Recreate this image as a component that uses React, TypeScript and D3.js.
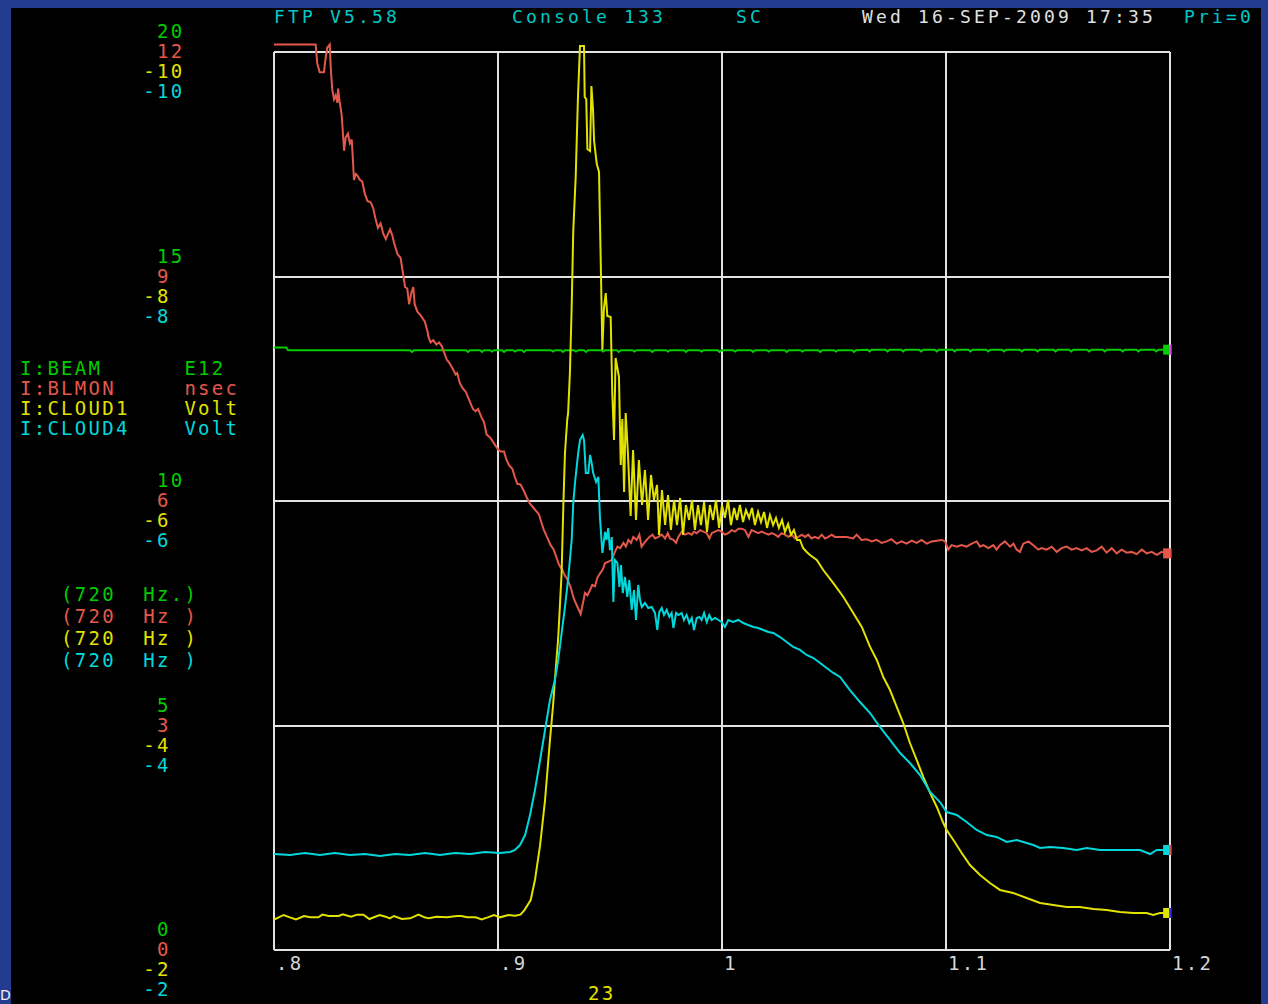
import React from 'react';
import * as d3 from 'd3';

const W = 1268, H = 1004;
const PL = 274, PR = 1170, PT = 52, PB = 950;

const xTicks = [0.8, 0.9, 1.0, 1.1, 1.2];
const xTickLabels = ['.8', '.9', '1', '1.1', '1.2'];
const beamTicks = [0, 5, 10, 15, 20];
const blmonTicks = [0, 3, 6, 9, 12];
const cloud1Ticks = [-2, -4, -6, -8, -10];
const cloud4Ticks = [-2, -4, -6, -8, -10];

const seriesNames = ['I:BEAM', 'I:BLMON', 'I:CLOUD1', 'I:CLOUD4'];
const seriesUnits = ['E12', 'nsec', 'Volt', 'Volt'];
const seriesRates = ['(720  Hz.)', '(720  Hz )', '(720  Hz )', '(720  Hz )'];
const seriesColors = ['#00cc00', '#e4584a', '#e2e200', '#00d8dc'];
const markerTickColors = ['#e040e0', '#e84848', '#2a2aff', '#e84848'];

const headerItems: [number, string, string][] = [
  [0, 'FTP V5.58', '#00c8c8'],
  [17, 'Console 133', '#00c8c8'],
  [33, 'SC', '#00c8c8'],
  [42, 'Wed 16-SEP-2009 17:35', '#e0e0e0'],
  [65, 'Pri=0', '#00c8c8'],
];
const xAxisTitle = '23';
const cornerText = 'D';

const beam: [number, number][] = [
  [0.8000, 13.42], [0.8054, 13.42], [0.8063, 13.36], [0.8400, 13.36], [0.8607, 13.36], [0.8616, 13.32], [0.8625, 13.36],
  [0.8857, 13.36], [0.8866, 13.32], [0.8875, 13.36], [0.8920, 13.36], [0.8929, 13.32], [0.8938, 13.36], [0.8964, 13.36],
  [0.8973, 13.33], [0.8982, 13.36], [0.9018, 13.36], [0.9027, 13.32], [0.9036, 13.36], [0.9067, 13.36], [0.9076, 13.33],
  [0.9085, 13.36], [0.9107, 13.36], [0.9116, 13.32], [0.9125, 13.36], [0.9237, 13.36], [0.9246, 13.33], [0.9255, 13.36],
  [0.9281, 13.36], [0.9290, 13.32], [0.9299, 13.36], [0.9339, 13.36], [0.9348, 13.33], [0.9357, 13.36], [0.9384, 13.36],
  [0.9393, 13.32], [0.9402, 13.36], [0.9460, 13.36], [0.9469, 13.33], [0.9478, 13.36], [0.9530, 13.36], [0.9539, 13.32],
  [0.9548, 13.36], [0.9600, 13.36], [0.9609, 13.33], [0.9618, 13.36], [0.9680, 13.36], [0.9689, 13.32], [0.9698, 13.36],
  [0.9750, 13.36], [0.9759, 13.33], [0.9768, 13.36], [0.9830, 13.36], [0.9839, 13.32], [0.9848, 13.36], [0.9900, 13.36],
  [0.9909, 13.33], [0.9918, 13.36], [0.9980, 13.36], [0.9989, 13.32], [0.9998, 13.36], [1.0050, 13.36], [1.0059, 13.33],
  [1.0068, 13.36], [1.0130, 13.36], [1.0139, 13.32], [1.0148, 13.36], [1.0200, 13.36], [1.0209, 13.33], [1.0218, 13.36],
  [1.0280, 13.36], [1.0289, 13.32], [1.0298, 13.36], [1.0350, 13.36], [1.0359, 13.33], [1.0368, 13.36], [1.0430, 13.36],
  [1.0439, 13.32], [1.0448, 13.36], [1.0500, 13.36], [1.0509, 13.33], [1.0518, 13.36], [1.0580, 13.36], [1.0589, 13.32],
  [1.0598, 13.36], [1.0650, 13.37], [1.0659, 13.33], [1.0668, 13.37], [1.0730, 13.37], [1.0739, 13.33], [1.0748, 13.37],
  [1.0800, 13.37], [1.0809, 13.33], [1.0818, 13.37], [1.0880, 13.37], [1.0889, 13.33], [1.0898, 13.37], [1.0950, 13.37],
  [1.0959, 13.33], [1.0968, 13.37], [1.1030, 13.37], [1.1039, 13.33], [1.1048, 13.37], [1.1100, 13.37], [1.1109, 13.33],
  [1.1118, 13.37], [1.1180, 13.37], [1.1189, 13.33], [1.1198, 13.37], [1.1250, 13.37], [1.1259, 13.33], [1.1268, 13.37],
  [1.1330, 13.37], [1.1339, 13.33], [1.1348, 13.37], [1.1400, 13.37], [1.1409, 13.33], [1.1418, 13.37], [1.1480, 13.37],
  [1.1489, 13.33], [1.1498, 13.37], [1.1550, 13.37], [1.1559, 13.33], [1.1568, 13.37], [1.1630, 13.37], [1.1639, 13.33],
  [1.1648, 13.37], [1.1700, 13.37], [1.1709, 13.33], [1.1718, 13.37], [1.1780, 13.37], [1.1789, 13.33], [1.1798, 13.37],
  [1.1850, 13.37], [1.1859, 13.33], [1.1868, 13.37], [1.1930, 13.37], [1.1939, 13.33], [1.1948, 13.37], [1.1985, 13.37],
];

const blmon: [number, number][] = [
  [0.8000, 12.10], [0.8186, 12.10], [0.8193, 11.85], [0.8204, 11.73], [0.8223, 11.73], [0.8231, 11.93], [0.8238, 12.06],
  [0.8249, 12.10], [0.8253, 11.80], [0.8260, 11.50], [0.8268, 11.37], [0.8275, 11.42], [0.8283, 11.32], [0.8286, 11.51],
  [0.8293, 11.34], [0.8302, 11.16], [0.8313, 10.68], [0.8320, 10.86], [0.8330, 10.91], [0.8339, 10.78], [0.8347, 10.83],
  [0.8353, 10.52], [0.8357, 10.29], [0.8365, 10.37], [0.8372, 10.35], [0.8384, 10.29], [0.8394, 10.27], [0.8405, 10.11],
  [0.8417, 10.01], [0.8432, 9.99], [0.8443, 9.91], [0.8454, 9.76], [0.8464, 9.65], [0.8476, 9.71], [0.8487, 9.58],
  [0.8499, 9.50], [0.8506, 9.55], [0.8518, 9.63], [0.8528, 9.55], [0.8536, 9.45], [0.8551, 9.30], [0.8565, 9.25],
  [0.8576, 9.04], [0.8585, 8.86], [0.8595, 8.84], [0.8603, 8.63], [0.8613, 8.78], [0.8622, 8.86], [0.8628, 8.63],
  [0.8640, 8.53], [0.8655, 8.48], [0.8673, 8.40], [0.8685, 8.27], [0.8689, 8.20], [0.8699, 8.12], [0.8711, 8.15],
  [0.8725, 8.09], [0.8737, 8.12], [0.8749, 8.07], [0.8759, 7.99], [0.8771, 7.89], [0.8784, 7.84], [0.8799, 7.76],
  [0.8811, 7.69], [0.8818, 7.71], [0.8829, 7.58], [0.8841, 7.51], [0.8856, 7.46], [0.8871, 7.35], [0.8888, 7.23],
  [0.8900, 7.20], [0.8911, 7.23], [0.8926, 7.12], [0.8938, 7.05], [0.8949, 6.89], [0.8967, 6.84], [0.8982, 6.77],
  [0.9000, 6.69], [0.9012, 6.66], [0.9027, 6.66], [0.9037, 6.56], [0.9049, 6.48], [0.9064, 6.43], [0.9074, 6.33],
  [0.9086, 6.23], [0.9101, 6.22], [0.9116, 6.13], [0.9128, 6.05], [0.9141, 5.97], [0.9161, 5.90], [0.9183, 5.82],
  [0.9193, 5.72], [0.9205, 5.61], [0.9220, 5.51], [0.9235, 5.41], [0.9247, 5.36], [0.9257, 5.28], [0.9272, 5.15],
  [0.9287, 5.08], [0.9299, 5.00], [0.9310, 4.95], [0.9324, 4.85], [0.9339, 4.69], [0.9354, 4.59], [0.9369, 4.49],
  [0.9381, 4.66], [0.9388, 4.77], [0.9399, 4.74], [0.9411, 4.81], [0.9421, 4.88], [0.9433, 4.86], [0.9443, 4.97],
  [0.9455, 5.03], [0.9467, 5.08], [0.9478, 5.17], [0.9493, 5.19], [0.9507, 5.21], [0.9522, 5.32], [0.9533, 5.39],
  [0.9545, 5.37], [0.9560, 5.44], [0.9571, 5.39], [0.9582, 5.48], [0.9594, 5.44], [0.9604, 5.52], [0.9619, 5.48],
  [0.9631, 5.55], [0.9641, 5.39], [0.9653, 5.44], [0.9664, 5.48], [0.9676, 5.52], [0.9690, 5.55], [0.9701, 5.50],
  [0.9716, 5.52], [0.9731, 5.55], [0.9746, 5.50], [0.9758, 5.57], [0.9768, 5.50], [0.9783, 5.48], [0.9795, 5.44],
  [0.9805, 5.52], [0.9820, 5.59], [0.9835, 5.55], [0.9850, 5.57], [0.9865, 5.55], [0.9875, 5.59], [0.9887, 5.57],
  [0.9902, 5.61], [0.9917, 5.59], [0.9932, 5.57], [0.9944, 5.50], [0.9954, 5.57], [0.9969, 5.59], [0.9984, 5.61],
  [0.9999, 5.59], [1.0013, 5.55], [1.0028, 5.57], [1.0043, 5.61], [1.0058, 5.59], [1.0073, 5.63], [1.0088, 5.63],
  [1.0103, 5.61], [1.0118, 5.52], [1.0132, 5.61], [1.0147, 5.59], [1.0162, 5.57], [1.0177, 5.59], [1.0192, 5.57],
  [1.0207, 5.55], [1.0222, 5.57], [1.0237, 5.55], [1.0251, 5.52], [1.0266, 5.57], [1.0281, 5.55], [1.0296, 5.52],
  [1.0311, 5.55], [1.0326, 5.50], [1.0341, 5.52], [1.0356, 5.55], [1.0371, 5.52], [1.0385, 5.55], [1.0400, 5.50],
  [1.0415, 5.52], [1.0430, 5.50], [1.0445, 5.55], [1.0460, 5.50], [1.0475, 5.52], [1.0490, 5.55], [1.0504, 5.52],
  [1.0527, 5.52], [1.0557, 5.52], [1.0586, 5.50], [1.0601, 5.55], [1.0623, 5.48], [1.0646, 5.49], [1.0668, 5.46],
  [1.0690, 5.48], [1.0713, 5.44], [1.0735, 5.46], [1.0757, 5.49], [1.0780, 5.43], [1.0802, 5.46], [1.0824, 5.43],
  [1.0847, 5.47], [1.0869, 5.44], [1.0891, 5.48], [1.0914, 5.43], [1.0936, 5.46], [1.0958, 5.47], [1.0981, 5.48],
  [1.0996, 5.46], [1.1010, 5.35], [1.1025, 5.41], [1.1048, 5.39], [1.1070, 5.41], [1.1092, 5.39], [1.1115, 5.43],
  [1.1137, 5.46], [1.1152, 5.39], [1.1167, 5.41], [1.1189, 5.37], [1.1211, 5.41], [1.1226, 5.35], [1.1241, 5.41],
  [1.1263, 5.46], [1.1286, 5.39], [1.1301, 5.43], [1.1315, 5.35], [1.1330, 5.32], [1.1345, 5.43], [1.1368, 5.46],
  [1.1390, 5.41], [1.1412, 5.35], [1.1427, 5.37], [1.1449, 5.35], [1.1472, 5.39], [1.1494, 5.32], [1.1516, 5.37],
  [1.1539, 5.39], [1.1561, 5.35], [1.1583, 5.37], [1.1606, 5.34], [1.1628, 5.37], [1.1650, 5.32], [1.1673, 5.34],
  [1.1695, 5.39], [1.1717, 5.31], [1.1740, 5.37], [1.1762, 5.30], [1.1784, 5.35], [1.1807, 5.31], [1.1829, 5.32],
  [1.1851, 5.29], [1.1874, 5.35], [1.1896, 5.30], [1.1918, 5.32], [1.1941, 5.28], [1.1963, 5.32], [1.1985, 5.30],
];

const cloud1: [number, number][] = [
  [0.8000, -2.280], [0.8007, -2.276], [0.8043, -2.312], [0.8071, -2.291], [0.8098, -2.273], [0.8134, -2.303],
  [0.8162, -2.291], [0.8198, -2.291], [0.8216, -2.315], [0.8244, -2.303], [0.8289, -2.303], [0.8307, -2.318],
  [0.8344, -2.297], [0.8371, -2.315], [0.8399, -2.315], [0.8426, -2.276], [0.8471, -2.312], [0.8499, -2.297],
  [0.8517, -2.282], [0.8535, -2.303], [0.8571, -2.276], [0.8608, -2.282], [0.8645, -2.315], [0.8672, -2.291],
  [0.8690, -2.282], [0.8726, -2.297], [0.8772, -2.291], [0.8817, -2.303], [0.8836, -2.303], [0.8863, -2.291],
  [0.8900, -2.291], [0.8927, -2.273], [0.8954, -2.291], [0.8982, -2.312], [0.9009, -2.291], [0.9046, -2.312],
  [0.9076, -2.306], [0.9100, -2.315], [0.9118, -2.356], [0.9146, -2.445], [0.9165, -2.624], [0.9188, -2.935],
  [0.9210, -3.336], [0.9232, -3.871], [0.9246, -4.183], [0.9254, -4.405], [0.9269, -4.788], [0.9277, -5.091],
  [0.9284, -5.359], [0.9292, -5.982], [0.9299, -6.428], [0.9309, -6.722], [0.9313, -6.784], [0.9321, -7.140],
  [0.9329, -7.737], [0.9336, -8.405], [0.9347, -8.895], [0.9357, -9.599], [0.9366, -10.053], [0.9384, -10.053],
  [0.9387, -9.599], [0.9394, -9.581], [0.9399, -9.136], [0.9411, -9.118], [0.9417, -9.697], [0.9424, -9.492],
  [0.9429, -9.207], [0.9441, -9.002], [0.9451, -8.931], [0.9459, -8.094], [0.9466, -7.345], [0.9473, -7.719],
  [0.9481, -7.853], [0.9488, -7.648], [0.9503, -7.639], [0.9510, -6.971], [0.9518, -6.543], [0.9525, -7.274],
  [0.9540, -7.105], [0.9548, -6.321], [0.9555, -6.731], [0.9563, -6.080], [0.9570, -6.784], [0.9580, -6.428],
  [0.9592, -5.866], [0.9603, -6.454], [0.9616, -5.831], [0.9629, -6.365], [0.9643, -5.964], [0.9656, -6.276],
  [0.9670, -5.831], [0.9683, -6.232], [0.9696, -6.009], [0.9710, -6.143], [0.9719, -5.697], [0.9732, -6.098],
  [0.9746, -5.786], [0.9759, -6.053], [0.9772, -5.742], [0.9786, -6.009], [0.9799, -5.786], [0.9813, -6.027],
  [0.9826, -5.697], [0.9839, -5.964], [0.9853, -5.831], [0.9866, -6.009], [0.9879, -5.742], [0.9893, -5.964],
  [0.9906, -5.786], [0.9920, -5.991], [0.9933, -5.724], [0.9946, -5.964], [0.9960, -5.831], [0.9973, -6.009],
  [0.9987, -5.760], [1.0000, -5.964], [1.0013, -5.849], [1.0027, -6.009], [1.0040, -5.786], [1.0054, -5.938],
  [1.0067, -5.831], [1.0080, -5.964], [1.0094, -5.813], [1.0107, -5.920], [1.0121, -5.849], [1.0134, -5.938],
  [1.0147, -5.786], [1.0161, -5.902], [1.0174, -5.813], [1.0188, -5.902], [1.0201, -5.760], [1.0214, -5.875],
  [1.0228, -5.786], [1.0241, -5.849], [1.0254, -5.760], [1.0268, -5.831], [1.0281, -5.724], [1.0295, -5.795],
  [1.0308, -5.697], [1.0321, -5.742], [1.0335, -5.653], [1.0348, -5.653], [1.0362, -5.581], [1.0378, -5.546],
  [1.0393, -5.519], [1.0423, -5.474], [1.0452, -5.385], [1.0497, -5.269], [1.0542, -5.145], [1.0586, -5.002],
  [1.0624, -4.878], [1.0661, -4.700], [1.0691, -4.584], [1.0720, -4.432], [1.0750, -4.316], [1.0780, -4.165],
  [1.0809, -4.022], [1.0839, -3.844], [1.0869, -3.693], [1.0899, -3.541], [1.0929, -3.399], [1.0959, -3.274],
  [1.0988, -3.131], [1.1003, -3.069], [1.1033, -2.980], [1.1070, -2.864], [1.1107, -2.757], [1.1152, -2.668],
  [1.1196, -2.597], [1.1241, -2.535], [1.1300, -2.508], [1.1360, -2.463], [1.1420, -2.419], [1.1479, -2.401],
  [1.1539, -2.383], [1.1598, -2.383], [1.1658, -2.365], [1.1717, -2.356], [1.1777, -2.339], [1.1836, -2.330],
  [1.1896, -2.330], [1.1925, -2.312], [1.1955, -2.330], [1.1985, -2.330],
];

const cloud4: [number, number][] = [
  [0.8000, -2.855], [0.8071, -2.846], [0.8138, -2.864], [0.8205, -2.846], [0.8272, -2.864], [0.8339, -2.846],
  [0.8406, -2.855], [0.8473, -2.837], [0.8540, -2.855], [0.8607, -2.846], [0.8674, -2.864], [0.8741, -2.846],
  [0.8808, -2.864], [0.8875, -2.855], [0.8942, -2.873], [0.9009, -2.864], [0.9054, -2.873], [0.9076, -2.891],
  [0.9098, -2.935], [0.9121, -3.024], [0.9143, -3.203], [0.9165, -3.425], [0.9188, -3.693], [0.9210, -3.960],
  [0.9232, -4.227], [0.9254, -4.405], [0.9269, -4.584], [0.9284, -4.824], [0.9299, -5.056], [0.9314, -5.323],
  [0.9329, -5.653], [0.9336, -5.982], [0.9344, -6.169], [0.9358, -6.428], [0.9366, -6.543], [0.9378, -6.588],
  [0.9384, -6.543], [0.9392, -6.249], [0.9403, -6.249], [0.9411, -6.410], [0.9418, -6.339], [0.9425, -6.249],
  [0.9438, -6.169], [0.9448, -6.214], [0.9455, -5.857], [0.9466, -5.537], [0.9478, -5.724], [0.9485, -5.653],
  [0.9492, -5.759], [0.9500, -5.563], [0.9508, -5.679], [0.9515, -5.100], [0.9522, -5.474], [0.9533, -5.448],
  [0.9542, -5.234], [0.9549, -5.430], [0.9557, -5.180], [0.9567, -5.323], [0.9577, -5.145], [0.9586, -5.296],
  [0.9597, -5.029], [0.9607, -5.207], [0.9616, -4.940], [0.9626, -5.252], [0.9634, -5.118], [0.9642, -5.056],
  [0.9656, -5.091], [0.9671, -5.047], [0.9686, -5.056], [0.9701, -5.002], [0.9711, -4.851], [0.9720, -5.011],
  [0.9731, -5.047], [0.9741, -4.984], [0.9753, -5.029], [0.9765, -4.967], [0.9775, -5.002], [0.9783, -4.869],
  [0.9795, -5.002], [0.9805, -4.984], [0.9820, -5.002], [0.9830, -4.940], [0.9842, -4.984], [0.9854, -4.913],
  [0.9865, -4.958], [0.9875, -4.851], [0.9887, -4.958], [0.9899, -4.967], [0.9909, -4.940], [0.9920, -5.002],
  [0.9932, -4.922], [0.9943, -4.984], [0.9954, -4.940], [0.9969, -4.958], [0.9984, -4.940], [0.9998, -4.922],
  [1.0013, -4.878], [1.0028, -4.940], [1.0050, -4.922], [1.0073, -4.940], [1.0095, -4.913], [1.0117, -4.895],
  [1.0140, -4.878], [1.0162, -4.869], [1.0184, -4.851], [1.0207, -4.833], [1.0229, -4.824], [1.0259, -4.788],
  [1.0289, -4.744], [1.0318, -4.700], [1.0348, -4.673], [1.0378, -4.628], [1.0408, -4.601], [1.0438, -4.557],
  [1.0467, -4.512], [1.0497, -4.468], [1.0527, -4.432], [1.0571, -4.316], [1.0616, -4.209], [1.0661, -4.111],
  [1.0705, -3.987], [1.0750, -3.871], [1.0795, -3.755], [1.0839, -3.666], [1.0884, -3.559], [1.0929, -3.408],
  [1.0973, -3.318], [1.1003, -3.229], [1.1048, -3.203], [1.1092, -3.140], [1.1137, -3.069], [1.1182, -3.024],
  [1.1226, -3.007], [1.1271, -2.962], [1.1316, -2.980], [1.1345, -2.962], [1.1390, -2.935], [1.1420, -2.909],
  [1.1464, -2.918], [1.1524, -2.909], [1.1583, -2.891], [1.1628, -2.909], [1.1688, -2.891], [1.1747, -2.891],
  [1.1807, -2.891], [1.1866, -2.891], [1.1911, -2.855], [1.1941, -2.891], [1.1985, -2.891],
];

const MONO = '"DejaVu Sans Mono", "Liberation Mono", monospace';
const PITCH = 13.7;
const colX = (c: number) => 20 + c * PITCH;

export default function App() {
  const x = d3.scaleLinear().domain([0.8, 1.2]).range([PL, PR]);
  const yBeam = d3.scaleLinear().domain([0, 20]).range([PB, PT]);
  const yBlmon = d3.scaleLinear().domain([0, 12]).range([PB, PT]);
  const yCloud1 = d3.scaleLinear().domain([-2, -10]).range([PB, PT]);
  const yCloud4 = d3.scaleLinear().domain([-2, -10]).range([PB, PT]);

  const series = [
    { data: beam, y: yBeam },
    { data: blmon, y: yBlmon },
    { data: cloud1, y: yCloud1 },
    { data: cloud4, y: yCloud4 },
  ];
  const tickSets = [beamTicks, blmonTicks, cloud1Ticks, cloud4Ticks];
  const tickOffsets = [-14, 6, 26, 46];

  const txt = { fontFamily: MONO, fontSize: 19, letterSpacing: 2.26, whiteSpace: 'pre' as const };

  return (
    <svg width={W} height={H} style={{ position: 'absolute', left: 0, top: 0, display: 'block' }}>
      <rect x={0} y={0} width={W} height={H} fill="#243c8f" />
      <rect x={11} y={8} width={1250} height={H - 8} fill="#000" />

      {/* header */}
      {headerItems.map(([c, s, col], i) => (
        <text key={'h' + i} x={274 + c * 14} y={23} fill={col}
          style={{ fontFamily: MONO, fontSize: 18, letterSpacing: 3.16, whiteSpace: 'pre' }}>{s}</text>
      ))}

      {/* grid */}
      <g stroke="#e2e2e2" strokeWidth={2} shapeRendering="crispEdges">
        {beamTicks.map((t, i) => (
          <line key={'gy' + i} x1={PL} x2={PR} y1={yBeam(t)} y2={yBeam(t)} />
        ))}
        {xTicks.map((t, i) => (
          <line key={'gx' + i} x1={x(t)} x2={x(t)} y1={PT} y2={PB} />
        ))}
      </g>

      {/* x labels */}
      {xTicks.map((t, i) => (
        <text key={'xl' + i} x={x(t) + 2} y={970} fill="#d4d4d4" style={txt}>{xTickLabels[i]}</text>
      ))}
      <text x={588} y={1000} fill={seriesColors[2]} style={txt}>{xAxisTitle}</text>

      {/* y tick labels */}
      {tickSets.map((ticks, si) =>
        ticks.map((v, ti) => (
          <text key={'yl' + si + '-' + ti} x={colX(v < 0 ? 9 : 10)} y={yBeam(beamTicks[ti]) + tickOffsets[si]}
            fill={seriesColors[si]} style={txt}>{String(v)}</text>
        ))
      )}

      {/* legend */}
      {seriesNames.map((n, i) => (
        <g key={'lg' + i}>
          <text x={colX(0)} y={375 + i * 20} fill={seriesColors[i]} style={txt}>{n}</text>
          <text x={colX(12)} y={375 + i * 20} fill={seriesColors[i]} style={txt}>{seriesUnits[i]}</text>
          <text x={colX(3)} y={601 + i * 22} fill={seriesColors[i]} style={txt}>{seriesRates[i]}</text>
        </g>
      ))}

      {/* traces */}
      {series.map((s, i) => {
        const line = d3.line<[number, number]>().x(d => x(d[0])).y(d => s.y(d[1]));
        const last = s.data[s.data.length - 1];
        const lx = x(last[0]);
        const ly = s.y(last[1]);
        return (
          <g key={'s' + i}>
            <path d={line(s.data) || ''} fill="none" stroke={seriesColors[i]} strokeWidth={2} strokeLinejoin="miter" />
            <rect x={lx - 3.5} y={ly - 5} width={6} height={10} fill={seriesColors[i]} />
            <rect x={lx + 2.5} y={ly - 5} width={2.5} height={10} fill={markerTickColors[i]} />
          </g>
        );
      })}

      <text x={0} y={1000} fill="#f0f0f0" style={{ fontFamily: '"DejaVu Sans", sans-serif', fontSize: 14 }}>{cornerText}</text>
    </svg>
  );
}
